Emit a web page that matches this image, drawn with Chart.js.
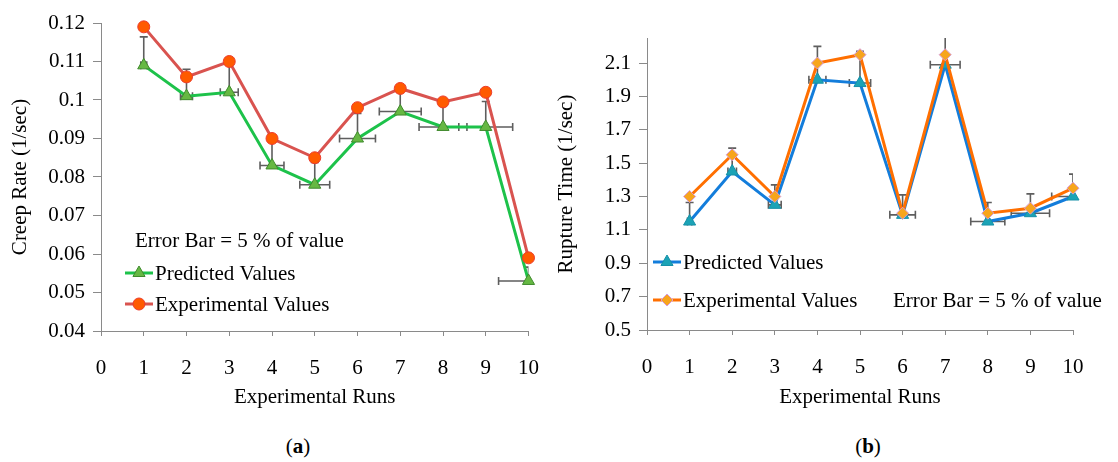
<!DOCTYPE html>
<html>
<head>
<meta charset="utf-8">
<script src="https://cdn.jsdelivr.net/npm/chart.js@4.4.1/dist/chart.umd.min.js"></script>
<style>
  html, body { margin: 0; padding: 0; background: #fff; }
  #wrap { position: relative; width: 1118px; height: 462px; overflow: hidden;
          font-family: 'Liberation Serif', 'Times New Roman', serif; }
  canvas { position: absolute; top: 0; }
  #creep { left: 0; }
  #rupture { left: 545px; }
  .cap { position: absolute; top: 434px; width: 60px; text-align: center;
         font-size: 21px; line-height: 24px; color: #000; }
</style>
</head>
<body>
<div id="wrap">
  <canvas id="creep" width="559" height="420"></canvas>
  <canvas id="rupture" width="573" height="420"></canvas>
  <div class="cap" style="left:268px">(<b>a</b>)</div>
  <div class="cap" style="left:838px">(<b>b</b>)</div>
</div>
<script>
// Experimental runs and axis ticks
const runs = [1, 2, 3, 4, 5, 6, 7, 8, 9, 10];
const runTicks = [0, 1, 2, 3, 4, 5, 6, 7, 8, 9, 10];

// (a) creep rate
const creepPredicted    = [0.109, 0.101, 0.102, 0.083, 0.078, 0.090, 0.097, 0.093, 0.093, 0.053];
const creepExperimental = [0.119, 0.106, 0.110, 0.090, 0.085, 0.098, 0.103, 0.0995, 0.102, 0.059];
const creepErrTop       = [0.1164, 0.108, 0.110, 0.0892, 0.0838, 0.0965, 0.1025, 0.099, 0.0996, 0.0566];
const creepErrRun       = [0.07, 0.14, 0.21, 0.28, 0.35, 0.42, 0.49, 0.56, 0.63, 0.70];
const creepTicks        = [0.04, 0.05, 0.06, 0.07, 0.08, 0.09, 0.10, 0.11, 0.12];

// (b) rupture time
const rupturePredicted    = [1.15, 1.45, 1.25, 2.00, 1.98, 1.19, 2.09, 1.15, 1.20, 1.30];
const ruptureExperimental = [1.30, 1.55, 1.30, 2.10, 2.15, 1.20, 2.15, 1.20, 1.23, 1.35];
const ruptureErrTop       = [1.264, 1.59, 1.37, 2.20, 2.17, 1.31, 2.27, 1.264, 1.316, 1.434];
const ruptureErrRun       = [0.05, 0.10, 0.15, 0.20, 0.25, 0.30, 0.35, 0.40, 0.45, 0.50];
const ruptureTicks        = [0.5, 0.7, 0.9, 1.1, 1.3, 1.5, 1.7, 1.9, 2.1];

const FONT = "'Liberation Serif', 'Times New Roman', serif";
const AXIS = '#8a8a8a';
const ERR = '#5e5e5e';
Chart.defaults.font.family = FONT;
Chart.defaults.color = '#000';

const pts = vals => runs.map((r, i) => ({ x: r, y: vals[i] }));

// gray error bars: vertical from the predicted point up, horizontal along the run axis
function errorBars(pred, tops, runErr) {
  return {
    id: 'errorBars',
    beforeDatasetsDraw(chart) {
      const { ctx, chartArea: a, scales: { x, y } } = chart;
      ctx.save();
      ctx.beginPath();
      ctx.rect(a.left, a.top, a.right - a.left, a.bottom - a.top);
      ctx.clip();
      ctx.strokeStyle = ERR;
      ctx.lineWidth = 1.6;
      runs.forEach((r, i) => {
        const px = x.getPixelForValue(r);
        const py = y.getPixelForValue(pred[i]);
        const ty = y.getPixelForValue(tops[i]);
        const xl = x.getPixelForValue(r - runErr[i]);
        const xr = x.getPixelForValue(r + runErr[i]);
        ctx.beginPath();
        ctx.moveTo(px, py); ctx.lineTo(px, ty);
        ctx.moveTo(px - 4, ty); ctx.lineTo(px + 4, ty);
        ctx.moveTo(xl, py); ctx.lineTo(xr, py);
        ctx.moveTo(xl, py - 4); ctx.lineTo(xl, py + 4);
        ctx.moveTo(xr, py - 4); ctx.lineTo(xr, py + 4);
        ctx.stroke();
      });
      ctx.restore();
    }
  };
}

// in-plot legend: line with marker, plus the error-bar note
function legendBox(items, note) {
  return {
    id: 'legendBox',
    afterDraw(chart) {
      const ctx = chart.ctx;
      ctx.save();
      ctx.font = "21px " + FONT;
      ctx.textBaseline = 'middle';
      ctx.fillStyle = '#000';
      items.forEach(it => {
        const ds = chart.data.datasets[it.ds];
        ctx.strokeStyle = ds.borderColor;
        ctx.lineWidth = ds.borderWidth;
        ctx.beginPath();
        ctx.moveTo(it.x, it.y); ctx.lineTo(it.x + 28, it.y);
        ctx.stroke();
        ctx.fillStyle = ds.pointBackgroundColor;
        ctx.strokeStyle = ds.pointBorderColor;
        ctx.lineWidth = ds.pointBorderWidth;
        Chart.helpers.drawPoint(ctx, { pointStyle: ds.pointStyle, radius: ds.pointRadius, rotation: 0, borderWidth: ds.pointBorderWidth }, it.x + 14, it.y);
        ctx.fillStyle = '#000';
        ctx.fillText(ds.label, it.x + 30, it.y + 1);
      });
      ctx.fillText(note.text, note.x, note.y + 1);
      ctx.restore();
    }
  };
}

function axes(cfg) {
  const base = {
    type: 'linear',
    grid: { drawOnChartArea: false, drawTicks: true, color: AXIS, lineWidth: 1 },
    border: { display: true, color: AXIS, width: 1 }
  };
  return {
    x: Object.assign({}, base, {
      min: 0, max: 10,
      afterBuildTicks: s => { s.ticks = runTicks.map(v => ({ value: v })); },
      afterFit: s => { s.height = cfg.xHeight; },
      grid: Object.assign({}, base.grid, { tickLength: 5 }),
      ticks: { padding: 20, autoSkip: false, maxRotation: 0, font: { size: 21 }, color: '#000',
               callback: v => String(v) },
      title: { display: true, text: 'Experimental Runs', font: { size: 21 }, color: '#000',
               padding: { top: 0, bottom: 10 } }
    }),
    y: Object.assign({}, base, {
      min: cfg.yMin, max: cfg.yMax,
      afterBuildTicks: s => { s.ticks = cfg.yTicks.map(v => ({ value: v })); },
      afterFit: s => { s.width = cfg.yWidth; },
      grid: Object.assign({}, base.grid, { tickLength: 8 }),
      ticks: { padding: 8, autoSkip: false, font: { size: 21 }, color: '#000',
               callback: cfg.fmt },
      title: { display: true, text: cfg.yTitle, font: { size: 21 }, color: '#000',
               padding: { top: cfg.yTitlePad, bottom: 0 } }
    })
  };
}

function lineSet(label, vals, style) {
  return Object.assign({
    label, data: pts(vals), borderWidth: 3, tension: 0, fill: false,
    pointBorderWidth: 1, clip: false
  }, style);
}

// (a) creep rate chart
new Chart(document.getElementById('creep'), {
  type: 'line',
  data: {
    datasets: [
      lineSet('Predicted Values', creepPredicted, {
        borderColor: '#1dc24a', pointStyle: 'triangle', pointRadius: 7,
        pointBackgroundColor: '#66b843', pointBorderColor: '#3f8a2c', order: 1
      }),
      lineSet('Experimental Values', creepExperimental, {
        borderColor: '#d9534f', pointStyle: 'circle', pointRadius: 6,
        pointBackgroundColor: '#ff5a00', pointBorderColor: '#ec3b2c', order: 0
      })
    ]
  },
  options: {
    responsive: false, animation: false, devicePixelRatio: 1,
    layout: { padding: { left: 0, right: 15, top: 23, bottom: 0 } },
    plugins: { legend: { display: false }, tooltip: { enabled: false } },
    scales: axes({
      xHeight: 89, yMin: 0.04, yMax: 0.12, yTicks: creepTicks, yWidth: 101,
      yTitle: 'Creep Rate (1/sec)', yTitlePad: 8,
      fmt: v => String(Number(v.toFixed(2)))
    })
  },
  plugins: [
    errorBars(creepPredicted, creepErrTop, creepErrRun),
    legendBox([{ ds: 0, x: 125, y: 273 }, { ds: 1, x: 125, y: 304 }],
              { text: 'Error Bar = 5 % of value', x: 135, y: 240 })
  ]
});

// (b) rupture time chart
new Chart(document.getElementById('rupture'), {
  type: 'line',
  data: {
    datasets: [
      lineSet('Predicted Values', rupturePredicted, {
        borderColor: '#137ddb', pointStyle: 'triangle', pointRadius: 7,
        pointBackgroundColor: '#1ba3b6', pointBorderColor: '#1790a8', order: 1
      }),
      lineSet('Experimental Values', ruptureExperimental, {
        borderColor: '#ff6f00', pointStyle: 'rectRot', pointRadius: 6,
        pointBackgroundColor: '#f7a51c', pointBorderColor: '#d79ad8', order: 0
      })
    ]
  },
  options: {
    responsive: false, animation: false, devicePixelRatio: 1,
    layout: { padding: { left: 0, right: 45, top: 38, bottom: 0 } },
    plugins: { legend: { display: false }, tooltip: { enabled: false } },
    scales: axes({
      xHeight: 90, yMin: 0.5, yMax: 2.25, yTicks: ruptureTicks, yWidth: 102,
      yTitle: 'Rupture Time (1/sec)', yTitlePad: 9,
      fmt: v => v.toFixed(1)
    })
  },
  plugins: [
    errorBars(rupturePredicted, ruptureErrTop, ruptureErrRun),
    legendBox([{ ds: 0, x: 108, y: 262 }, { ds: 1, x: 108, y: 300 }],
              { text: 'Error Bar = 5 % of value', x: 348, y: 300 })
  ]
});
</script>
</body>
</html>
